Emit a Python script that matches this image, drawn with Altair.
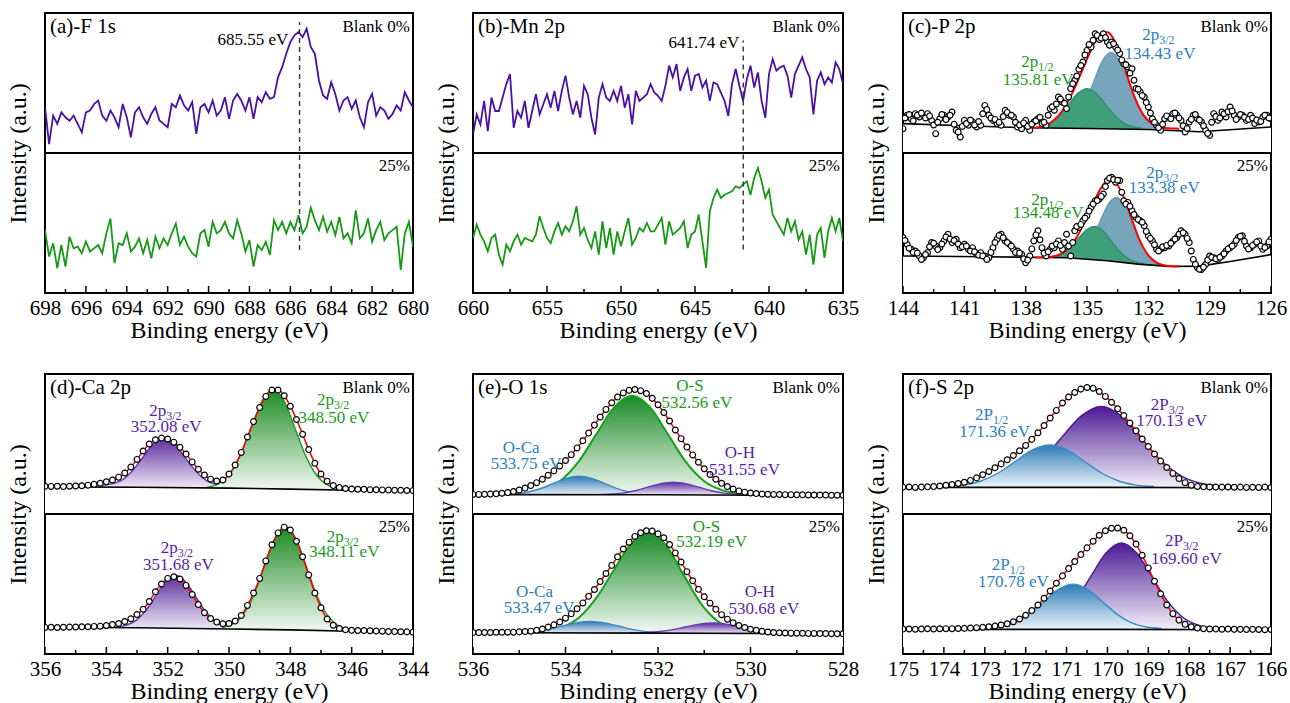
import numpy as np
import pandas as pd
import altair as alt

FONT = "'Liberation Serif', 'Times New Roman', Times, 'DejaVu Serif', serif"
W, H = 368, 280

PURPLE = "#4b10a4"
GREEN = "#169a16"
LAB_GREEN = "#1c9a1c"
LAB_BLUE = "#2a80bf"
LAB_PURPLE = "#5a1fa8"

# ============================ (a) F 1s ============================
A_RANGE = (698.0, 680.0)
A_TICKS = [698, 696, 694, 692, 690, 688, 686, 684, 682, 680]
A_MINOR = [697, 695, 693, 691, 689, 687, 685, 683, 681]
A_TOP = [32.7, 6.4, 26.7, 20.8, 29.0, 25.5, 23.0, 26.7, 20.8, 14.8,
         29.0, 30.3, 35.0, 37.5, 26.7, 23.0, 30.3, 25.5, 18.4, 35.0,
         25.5, 11.2, 29.0, 32.7, 25.5, 20.8, 27.9, 32.7, 23.2, 20.8,
         18.4, 35.0, 32.7, 41.0, 34.0, 30.3, 36.3, 13.6, 32.7, 35.0,
         29.0, 37.5, 26.7, 30.3, 39.9, 24.4, 37.5, 42.2, 37.5, 30.3,
         39.9, 24.4, 39.9, 36.3, 43.4, 38.7, 39.9, 54.2, 61.3, 70.9,
         79.2, 84.0, 86.4, 82.8, 88.8, 75.7, 70.9, 51.8, 41.1, 38.7,
         50.6, 42.2, 30.3, 37.5, 39.9, 31.5, 37.5, 25.5, 18.4, 36.3,
         42.2, 26.7, 32.7, 30.3, 24.4, 27.9, 34.0, 30.3, 43.4, 37.5,
         32.7]
A_BOT = [44.9, 26.0, 35.5, 17.7, 34.3, 18.9, 40.2, 31.9, 33.1, 28.4,
         36.7, 29.6, 31.9, 34.3, 28.4, 42.6, 53.2, 21.3, 35.5, 34.3,
         42.6, 29.6, 33.1, 39.0, 28.4, 37.8, 24.8, 40.2, 31.9, 39.0,
         34.3, 42.6, 49.6, 34.3, 40.2, 33.1, 28.4, 26.0, 42.6, 44.9,
         33.1, 50.8, 42.6, 44.9, 50.8, 42.6, 39.0, 52.0, 42.6, 29.6,
         37.8, 18.9, 34.3, 30.7, 36.7, 27.2, 52.0, 44.9, 50.8, 42.6,
         50.8, 44.9, 55.6, 42.6, 47.3, 61.0, 52.0, 44.9, 54.4, 43.7,
         50.8, 41.4, 54.4, 39.0, 42.6, 35.5, 59.1, 39.0, 42.6, 53.2,
         36.7, 44.9, 50.8, 37.8, 42.6, 44.9, 47.3, 16.5, 42.6, 50.8,
         33.1]
A_DASH = [685.55, 30.7, 193.6]
A_NOTE = ["685.55 eV", 686.1, 180.5]

# ============================ (b) Mn 2p ============================
B_RANGE = (660.0, 635.0)
B_TICKS = [660, 655, 650, 645, 640, 635]
B_MINOR = [657.5, 652.5, 647.5, 642.5, 637.5]
B_TOP = [13.2, 27.6, 20.4, 37.2, 15.6, 39.6, 30.0, 30.0, 39.6, 49.2,
         56.4, 18.0, 30.0, 25.2, 37.2, 18.0, 30.0, 42.0, 27.6, 34.8,
         42.0, 32.4, 44.4, 30.0, 44.4, 55.2, 39.6, 27.6, 37.2, 25.2,
         48.0, 42.0, 25.2, 13.2, 39.6, 49.2, 39.6, 37.2, 44.4, 37.2,
         48.0, 32.4, 42.0, 20.4, 44.4, 37.2, 39.6, 42.0, 49.2, 43.2,
         40.8, 37.2, 48.0, 62.4, 54.0, 63.5, 44.4, 54.0, 60.0, 44.4,
         55.2, 56.4, 46.8, 51.6, 37.2, 50.4, 49.2, 43.2, 37.2, 26.4,
         49.2, 60.0, 48.0, 37.2, 52.8, 62.4, 46.8, 57.6, 37.2, 25.2,
         56.4, 67.1, 58.8, 61.2, 62.4, 55.2, 39.6, 56.4, 62.4, 68.3,
         60.0, 54.0, 27.6, 51.6, 57.6, 49.2, 54.0, 50.4, 64.7, 60.0,
         49.2]
B_BOT = [39.3, 48.8, 41.7, 36.9, 29.8, 39.3, 41.7, 27.4, 20.2, 34.5,
         29.8, 36.9, 41.7, 34.5, 39.3, 38.0, 36.9, 41.7, 54.8, 46.4,
         39.3, 35.7, 44.0, 50.0, 41.7, 47.6, 44.0, 51.2, 61.9, 41.7,
         46.4, 38.0, 32.1, 44.0, 27.4, 51.2, 32.1, 46.4, 27.4, 44.0,
         33.3, 44.0, 53.6, 34.5, 39.3, 46.4, 44.0, 50.0, 44.0, 44.0,
         48.8, 53.6, 34.5, 51.2, 41.7, 44.0, 46.4, 51.2, 32.1, 41.7,
         44.0, 56.0, 36.9, 17.9, 58.3, 67.9, 73.8, 67.9, 70.2, 71.4,
         72.6, 76.2, 75.0, 77.4, 79.8, 70.2, 82.1, 89.3, 79.8, 67.9,
         73.8, 56.0, 51.2, 46.4, 41.7, 53.6, 44.0, 51.2, 38.0, 44.0,
         27.4, 41.7, 20.2, 41.7, 46.4, 25.0, 44.0, 53.6, 44.0, 53.6,
         36.9]
B_DASH = [641.74, 31.0, 180.3]
B_NOTE = ["641.74 eV", 642.0, 178.4]

# ============================ (c) P 2p ============================
C_RANGE = (144.0, 126.0)          # scan points on the 0.2 eV grid
C_MID_RANGE = (143.9, 126.1)      # interleaved scan points
C_TICKS = [144, 141, 138, 135, 132, 129, 126]
C_MINOR = [142.5, 139.5, 136.5, 133.5, 130.5, 127.5]
C_TOP = [17.4, 26.9, 24.5, 28.1, 25.7, 26.9, 28.1, 23.3, 13.8, 24.5,
         26.9, 25.7, 29.3, 16.2, 11.4, 23.3, 19.8, 22.1, 18.6, 19.8,
         34.0, 26.9, 23.3, 21.0, 19.8, 30.5, 26.9, 25.7, 18.6, 17.4,
         23.3, 16.2, 22.1, 24.5, 21.0, 19.8, 31.7, 30.5, 40.0, 36.3,
         31.7, 46.0, 51.9, 59.8, 65.0, 73.3, 75.7, 85.2, 81.0, 85.2,
         79.3, 79.3, 75.7, 71.0, 63.8, 61.4, 60.2, 46.0, 43.6, 40.0,
         32.9, 24.5, 19.8, 16.2, 24.5, 25.7, 28.1, 26.9, 23.3, 15.0,
         22.1, 26.9, 24.5, 22.1, 16.2, 12.6, 28.1, 23.3, 29.3, 25.7,
         32.9, 26.9, 25.7, 26.9, 23.3, 26.9, 21.0, 22.1, 25.7, 26.9,
         24.5]
C_TOP_MID = [25.0, 27.5, 23.0, 27.0, 28.5, 25.0, 26.5, 20.0, 22.0, 27.5,
             24.0, 27.0, 20.5, 15.0, 19.0, 21.0, 23.5, 20.0, 22.5, 28.0,
             31.0, 25.0, 24.0, 22.0, 26.0, 29.0, 27.0, 22.0, 20.0, 21.5,
             19.0, 20.5, 23.0, 25.5, 22.0, 27.0, 33.0, 35.0, 38.5, 35.5,
             40.0, 49.5, 55.0, 62.5, 70.0, 77.5, 80.5, 84.0, 82.0, 82.5,
             77.0, 78.0, 73.5, 66.5, 63.0, 57.0, 52.0, 45.5, 41.0, 36.0,
             28.5, 22.0, 18.0, 20.5, 26.5, 24.5, 28.5, 25.0, 19.5, 17.5,
             24.0, 27.5, 23.5, 19.5, 14.0, 22.0, 26.0, 25.0, 28.0, 29.5,
             30.0, 24.0, 27.5, 25.5, 24.0, 25.0, 23.5, 22.5, 27.0, 25.0]
C_BOT = [39.6, 34.8, 31.2, 30.0, 26.4, 25.2, 28.8, 36.0, 33.6, 32.4,
         37.2, 42.0, 36.0, 38.4, 32.4, 34.8, 31.2, 32.4, 27.6, 28.8,
         26.4, 25.2, 32.4, 38.4, 42.0, 37.2, 34.8, 31.2, 30.0, 27.6,
         21.6, 26.4, 37.2, 44.4, 32.4, 26.4, 31.2, 32.4, 37.2, 31.2,
         42.0, 26.4, 44.4, 46.8, 51.6, 55.2, 61.2, 65.9, 67.1, 70.7,
         80.3, 82.7, 79.1, 80.3, 65.9, 64.7, 58.8, 54.0, 51.6, 48.0,
         40.8, 37.2, 31.2, 31.2, 32.4, 33.6, 37.2, 39.6, 44.4, 42.0,
         36.0, 24.0, 18.0, 16.8, 20.4, 26.4, 25.2, 24.0, 26.4, 30.0,
         32.4, 34.8, 39.6, 40.8, 33.6, 32.4, 34.8, 37.2, 31.2, 33.6,
         38.4]
C_BOT_MID = [37.5, 32.0, 29.0, 28.5, 24.0, 27.5, 33.0, 35.5, 31.0, 35.0,
             40.0, 38.5, 37.5, 35.0, 33.0, 33.5, 30.0, 29.5, 27.0, 26.5,
             24.0, 29.0, 36.0, 41.0, 39.5, 36.0, 33.5, 29.0, 28.5, 24.5,
             23.5, 31.5, 41.5, 38.0, 28.5, 29.5, 33.5, 35.0, 34.0, 36.0,
             33.5, 36.0, 47.5, 49.0, 53.5, 58.5, 63.5, 66.0, 69.0, 76.0,
             82.0, 81.0, 80.5, 72.0, 63.5, 62.0, 56.0, 52.5, 50.5, 44.0,
             39.0, 34.5, 30.0, 33.0, 34.0, 35.5, 38.5, 42.0, 43.0, 39.0,
             30.0, 20.5, 17.0, 18.5, 23.5, 25.5, 24.5, 25.5, 28.0, 31.5,
             33.5, 37.5, 40.5, 37.0, 31.5, 34.0, 36.5, 33.5, 32.5, 36.5]
C_TOP_FIT_RANGE = (138.0, 130.5)
C_TOP_FIT = [17.6, 17.8, 18.1, 18.8, 20.0, 22.0, 25.0, 29.3, 35.0, 41.9,
             49.9, 58.5, 67.1, 75.3, 81.8, 86.0, 86.3, 82.7, 75.1, 65.0,
             53.6, 43.0, 34.2, 27.4, 23.0, 20.2, 18.8, 18.0, 17.7, 17.5, 17.4]
C_BOT_FIT_RANGE = (137.5, 130.5)
C_BOT_FIT = [25.3, 25.4, 25.5, 25.9, 26.6, 28.1, 30.7, 34.7, 39.9, 46.8,
             54.5, 62.6, 70.1, 76.4, 80.1, 80.4, 77.0, 69.9, 60.6, 50.3,
             40.3, 32.6, 26.9, 23.3, 21.0, 19.8, 19.3, 19.0, 19.0]
C_TOP_P12_RANGE = (137.7, 132.3)
C_TOP_P12 = [17.8, 18.8, 21.4, 26.8, 34.8, 42.6, 46.0, 42.6, 34.8, 26.8, 21.4, 18.8, 17.8]
C_TOP_P32_RANGE = (136.38, 131.28)
C_TOP_P32 = [17.9, 19.7, 24.7, 35.0, 50.4, 65.4, 71.8, 65.4, 50.4, 35.0, 24.7, 19.7, 17.9]
C_BOT_P12_RANGE = (137.02, 132.22)
C_BOT_P12 = [25.5, 26.3, 28.2, 32.5, 38.9, 45.2, 47.6, 44.4, 37.3, 30.0, 24.9, 22.2, 20.9]
C_BOT_P32_RANGE = (135.96, 131.16)
C_BOT_P32 = [25.3, 26.4, 30.2, 38.7, 51.1, 63.3, 68.2, 62.2, 48.9, 35.4, 26.0, 21.3, 19.5]
C_TOP_BG_E = [144, 141, 138, 135, 132, 129.5, 126]
C_TOP_BG = [21.0, 19.5, 18.0, 17.5, 16.8, 15.2, 18.6]
C_BOT_BG_E = [144, 140, 136, 134, 132.5, 131, 129.5, 128, 126]
C_BOT_BG = [26.4, 25.9, 25.2, 23.0, 20.6, 19.0, 19.2, 22.5, 27.4]
C_BASE = [15.0, 19.0]
C_LABELS = [
    (131.47, 184.0, "2p", "3/2", LAB_BLUE), (131.43, 171.0, "134.43 eV", "", LAB_BLUE),
    (137.39, 165.0, "2p", "1/2", LAB_GREEN), (137.39, 151.9, "135.81 eV", "", LAB_GREEN),
    (131.27, 85.6, "2p", "3/2", LAB_BLUE), (131.22, 75.1, "133.38 eV", "", LAB_BLUE),
    (136.90, 66.4, "2p", "1/2", LAB_GREEN), (136.90, 56.8, "134.48 eV", "", LAB_GREEN)]

# ============================ (d) Ca 2p ============================
D_RANGE = (356.0, 344.0)
D_TICKS = [356, 354, 352, 350, 348, 346, 344]
D_MINOR = [355, 353, 351, 349, 347, 345]
D_TOP = [19.8, 19.7, 19.8, 19.6, 19.8, 20.0, 20.2, 20.6, 21.2, 22.0,
         23.0, 24.3, 26.3, 29.3, 33.6, 39.0, 45.0, 50.0, 53.0, 54.2,
         53.6, 51.3, 47.6, 42.8, 37.2, 32.0, 27.8, 24.9, 23.6, 24.3,
         28.5, 35.0, 44.0, 55.0, 66.0, 76.0, 84.0, 88.6, 88.5, 84.5,
         77.0, 67.5, 57.0, 46.0, 36.2, 28.6, 23.4, 20.3, 18.9, 18.2,
         17.9, 17.7, 17.6, 17.4, 17.3, 17.2, 17.1, 17.0, 16.9, 16.8,
         16.7]
D_BOT = [19.0, 19.1, 18.9, 19.1, 19.2, 19.3, 19.4, 19.5, 19.7, 19.9,
         20.4, 21.0, 21.8, 23.2, 25.2, 28.2, 32.0, 37.5, 44.5, 50.0,
         54.0, 55.2, 53.6, 49.0, 42.5, 35.3, 29.5, 25.3, 22.8, 21.6,
         21.8, 23.5, 27.5, 34.7, 43.5, 54.0, 66.5, 78.0, 86.5, 90.6,
         88.5, 80.5, 69.5, 56.5, 43.5, 33.0, 25.0, 20.5, 18.2, 17.3,
         16.9, 16.8, 16.7, 16.6, 16.4, 16.3, 16.1, 16.0, 15.9, 15.8,
         15.6]
D_TOP_A_RANGE = (354.22, 350.02)
D_TOP_A = [20.5, 21.3, 23.8, 30.4, 40.2, 49.9, 54.0, 49.9, 40.1, 30.3, 23.6, 21.0, 19.9]
D_TOP_B_RANGE = (350.72, 346.40)
D_TOP_B = [19.2, 21.4, 27.8, 41.3, 61.3, 80.8, 89.1, 80.6, 60.8, 40.6, 27.0, 20.5, 18.1]
D_BOT_A_RANGE = (353.69, 349.79)
D_BOT_A = [19.2, 20.4, 23.8, 31.0, 41.5, 51.8, 56.2, 51.7, 41.2, 30.6, 23.3, 19.8, 18.6]
D_BOT_B_RANGE = (350.23, 346.09)
D_BOT_B = [19.0, 21.3, 28.0, 41.8, 62.4, 82.4, 90.9, 82.2, 62.0, 41.2, 27.3, 20.2, 17.8]
D_BG_E = [356, 353, 350, 348, 346, 344]
D_TOP_BG = [19.4, 19.1, 18.5, 17.8, 17.0, 16.6]
D_BOT_BG = [19.1, 18.8, 17.9, 17.2, 16.3, 15.6]
D_BASE = [16.5, 15.5]
D_LABELS = [
    (352.05, 173.6, "2p", "3/2", LAB_PURPLE), (352.05, 161.8, "352.08 eV", "", LAB_PURPLE),
    (346.58, 181.1, "2p", "3/2", LAB_GREEN), (346.58, 168.9, "348.50 eV", "", LAB_GREEN),
    (351.67, 75.4, "2p", "3/2", LAB_PURPLE), (351.65, 63.4, "351.68 eV", "", LAB_PURPLE),
    (346.26, 83.7, "2p", "3/2", LAB_GREEN), (346.24, 73.0, "348.11 eV", "", LAB_GREEN)]

# ============================ (e) O 1s ============================
E_RANGE = (536.0, 528.0)
E_TICKS = [536, 534, 532, 530, 528]
E_MINOR = [535, 533, 531, 529]
E_TOP = [14.0, 14.0, 14.1, 14.2, 14.4, 14.8, 15.3, 16.1, 17.1, 18.5,
         20.3, 22.4, 24.8, 27.7, 30.8, 34.3, 38.2, 42.4, 47.2, 52.3,
         57.8, 63.5, 69.3, 74.7, 79.5, 83.5, 86.5, 88.3, 88.9, 88.1,
         86.0, 82.6, 78.0, 72.5, 66.4, 60.0, 53.8, 47.8, 42.2, 37.0,
         32.3, 28.2, 24.8, 21.9, 19.6, 17.8, 16.5, 15.6, 15.0, 14.6,
         14.3, 14.1, 14.0, 13.9, 13.8, 13.8, 13.7, 13.7, 13.6, 13.6,
         13.5, 13.5, 13.4, 13.4, 13.4]
E_BOT = [15.3, 15.3, 15.4, 15.4, 15.5, 15.5, 15.6, 15.6, 15.8, 16.0,
         16.3, 17.0, 17.9, 19.2, 20.8, 22.9, 25.6, 28.7, 32.3, 36.5,
         41.2, 46.1, 51.7, 57.5, 63.3, 69.4, 75.0, 79.9, 84.0, 86.6,
         88.0, 87.8, 85.8, 83.0, 78.2, 72.2, 65.7, 58.8, 52.3, 46.2,
         40.9, 36.3, 31.9, 28.1, 24.9, 22.3, 20.4, 18.9, 17.7, 16.9,
         16.2, 15.7, 15.4, 15.2, 15.0, 14.9, 14.9, 14.8, 14.7, 14.7,
         14.6, 14.6, 14.5, 14.5, 14.4]
E_TOP_OS_RANGE = (534.90, 530.22)
E_TOP_OS = [14.7, 17.0, 23.4, 36.8, 56.7, 76.1, 84.4, 76.1, 56.7, 36.8, 23.4, 17.0, 14.7]
E_TOP_OCA_RANGE = (535.36, 532.06)
E_TOP_OCA = [14.1, 14.5, 15.7, 18.2, 21.9, 25.5, 27.0, 25.5, 21.9, 18.1, 15.6, 14.4, 14.0]
E_TOP_OH_RANGE = (533.32, 530.02)
E_TOP_OH = [13.8, 14.1, 14.9, 16.6, 19.2, 21.6, 22.7, 21.6, 19.2, 16.6, 14.9, 14.1, 13.8]
E_BOT_OS_RANGE = (534.45, 529.95)
E_BOT_OS = [16.1, 19.0, 26.3, 40.4, 60.2, 78.9, 86.7, 77.6, 56.7, 36.2, 23.2, 17.4, 15.6]
E_BOT_OCA_RANGE = (535.26, 531.66)
E_BOT_OCA = [15.2, 15.5, 16.2, 17.8, 20.1, 22.3, 23.3, 22.2, 20.0, 17.6, 16.0, 15.3, 15.0]
E_BOT_OH_RANGE = (532.61, 529.01)
E_BOT_OH = [15.0, 15.2, 15.9, 17.2, 19.3, 21.3, 22.1, 21.3, 19.3, 17.2, 15.9, 15.2, 15.0]
E_BG_E = [536, 532, 528]
E_TOP_BG = [13.9, 13.7, 13.2]
E_BOT_BG = [15.2, 14.9, 14.4]
E_BASE = [13.2, 14.4]
E_LABELS = [
    (531.31, 191.4, "O-S", "", LAB_GREEN), (531.16, 179.1, "532.56 eV", "", LAB_GREEN),
    (534.96, 147.2, "O-Ca", "", LAB_BLUE), (534.85, 135.6, "533.75 eV", "", LAB_BLUE),
    (530.23, 143.3, "O-H", "", LAB_PURPLE), (530.13, 131.4, "531.55 eV", "", LAB_PURPLE),
    (530.95, 90.7, "O-S", "", LAB_GREEN), (530.84, 79.8, "532.19 eV", "", LAB_GREEN),
    (534.67, 44.2, "O-Ca", "", LAB_BLUE), (534.57, 32.6, "533.47 eV", "", LAB_BLUE),
    (529.80, 44.2, "O-H", "", LAB_PURPLE), (529.71, 32.1, "530.68 eV", "", LAB_PURPLE)]

# ============================ (f) S 2p ============================
F_RANGE = (175.0, 166.0)
F_TICKS = [175, 174, 173, 172, 171, 170, 169, 168, 167, 166]
F_MINOR = [174.5, 173.5, 172.5, 171.5, 170.5, 169.5, 168.5, 167.5, 166.5]
F_TOP = [19.2, 19.3, 19.0, 19.2, 19.4, 19.6, 20.0, 20.5, 21.1, 21.8,
         22.7, 24.0, 25.8, 28.0, 30.4, 33.0, 35.8, 38.7, 41.8, 45.2,
         49.0, 53.3, 58.0, 63.2, 68.6, 74.0, 79.3, 83.6, 86.8, 89.2,
         90.4, 89.8, 87.5, 84.0, 79.8, 75.2, 70.3, 65.0, 59.4, 53.6,
         48.2, 42.9, 37.8, 33.2, 29.0, 25.3, 22.4, 20.6, 19.7, 19.4,
         19.3, 19.2, 19.2, 19.3, 19.1, 19.2, 19.0, 19.1, 19.0, 19.2,
         18.9]
F_BOT = [17.8, 17.9, 17.7, 17.9, 18.0, 17.9, 18.0, 18.1, 18.1, 18.2,
         18.3, 18.5, 18.8, 19.1, 19.5, 20.0, 20.7, 21.6, 23.0, 25.0,
         27.7, 31.0, 35.0, 39.8, 45.0, 50.5, 55.8, 61.0, 66.0, 71.0,
         75.8, 80.5, 84.8, 88.0, 89.8, 90.0, 88.4, 84.5, 78.5, 70.5,
         61.5, 52.0, 43.0, 35.0, 28.8, 24.2, 21.2, 19.5, 18.6, 18.1,
         17.9, 17.8, 17.7, 17.8, 17.6, 17.6, 17.5, 17.6, 17.5, 17.4,
         17.5]
F_TOP_A_RANGE = (173.96, 168.86)
F_TOP_A = [19.6, 20.6, 23.4, 29.1, 37.5, 45.8, 49.3, 45.8, 37.5, 29.1, 23.4, 20.6, 19.6]
F_TOP_B_RANGE = (173.09, 167.21)
F_TOP_B = [19.9, 21.8, 27.1, 38.0, 54.3, 70.1, 76.9, 70.1, 54.3, 38.0, 27.1, 21.8, 19.9]
F_BOT_A_RANGE = (173.00, 168.68)
F_BOT_A = [18.3, 19.3, 22.2, 28.3, 37.3, 46.1, 49.9, 46.1, 37.3, 28.3, 22.2, 19.3, 18.3]
F_BOT_B_RANGE = (171.91, 167.41)
F_BOT_B = [18.6, 20.6, 26.2, 37.9, 55.2, 72.1, 79.3, 72.1, 55.2, 37.9, 26.2, 20.6, 18.6]
F_BG_E = [175, 170, 166]
F_TOP_BG = [19.0, 19.0, 18.8]
F_BOT_BG = [17.6, 17.6, 17.3]
F_BASE = [18.8, 17.3]
F_LABELS = [
    (172.80, 170.9, "2P", "1/2", LAB_BLUE), (172.76, 158.6, "171.36 eV", "", LAB_BLUE),
    (168.50, 178.1, "2P", "3/2", LAB_PURPLE), (168.43, 166.2, "170.13 eV", "", LAB_PURPLE),
    (172.39, 63.3, "2P", "1/2", LAB_BLUE), (172.30, 51.2, "170.78 eV", "", LAB_BLUE),
    (168.15, 80.5, "2P", "3/2", LAB_PURPLE), (168.07, 67.9, "169.60 eV", "", LAB_PURPLE)]

TOP, BOT = 100.0, 0.0   # offset of the upper (Blank 0%) and lower (25%) strip

# ============================ helpers ============================
Y = alt.Y("v:Q", scale=alt.Scale(domain=[0, 200], nice=False, zero=False),
          axis=alt.Axis(labels=False, ticks=False, domain=False, grid=False,
                        title="Intensity (a.u.)", titlePadding=15))


def xenc(rng, major):
    return alt.X("E:Q",
                 scale=alt.Scale(domain=[min(rng), max(rng)], reverse=True, nice=False, zero=False),
                 axis=alt.Axis(values=major, format="d", ticks=False, domain=False, grid=False,
                               labelFlush=False, labelOverlap=False, labelPadding=4,
                               titlePadding=0, title="Binding energy (eV)"))


def sdf(rng, vals, off):
    return pd.DataFrame({"E": np.linspace(rng[0], rng[1], len(vals)),
                         "v": np.asarray(vals, dtype=float) + off})


def trace(x, rng, vals, off, color, w=1.8, interp="linear"):
    return alt.Chart(sdf(rng, vals, off)).mark_line(
        color=color, strokeWidth=w, clip=True, interpolate=interp).encode(x=x, y=Y)


def dots(x, rng, vals, off, size=34):
    return alt.Chart(sdf(rng, vals, off)).mark_point(
        shape="circle", filled=True, fill="white", stroke="black", strokeWidth=1.2,
        size=size, opacity=1, clip=True).encode(x=x, y=Y)


def bg_layers(x, es, vals, off):
    df = pd.DataFrame({"E": es, "v": np.asarray(vals, dtype=float) + off, "f": off + 0.8})
    mask = alt.Chart(df).mark_area(color="white", clip=True).encode(x=x, y=Y, y2="f:Q")
    line = alt.Chart(df).mark_line(color="black", strokeWidth=1.6, clip=True).encode(x=x, y=Y)
    return mask, line


def grad(top, bottom):
    return {"gradient": "linear", "x1": 0, "x2": 0, "y1": 0, "y2": 1,
            "stops": [{"offset": 0, "color": top}, {"offset": 1, "color": bottom}]}


def component(x, rng, vals, base, off, fill, line_color, lw=1.4):
    df = sdf(rng, vals, off)
    df["b"] = base + off
    area = alt.Chart(df).mark_area(color=fill, interpolate="monotone", clip=True, opacity=1).encode(
        x=x, y=Y, y2="b:Q")
    line = alt.Chart(df).mark_line(color=line_color, strokeWidth=lw, interpolate="monotone",
                                   clip=True).encode(x=x, y=Y)
    return area, line


def label_layers(x, rows):
    cols = ["E", "v", "t", "s", "c"]
    plain = pd.DataFrame([r for r in rows if r[3] == ""], columns=cols)
    subs = pd.DataFrame([r for r in rows if r[3] != ""], columns=cols)
    out = [alt.Chart(plain).mark_text(font=FONT, fontSize=17, align="center", baseline="middle").encode(
        x=x, y=Y, text="t:N", color=alt.Color("c:N", scale=None))]
    if len(subs):
        out.append(alt.Chart(subs).mark_text(font=FONT, fontSize=17, align="right", baseline="middle").encode(
            x=x, y=Y, text="t:N", color=alt.Color("c:N", scale=None)))
        out.append(alt.Chart(subs).mark_text(font=FONT, fontSize=12, align="left", baseline="middle", dy=5).encode(
            x=x, y=Y, text="s:N", color=alt.Color("c:N", scale=None)))
    return out


def frame_layers(x, w, h, title, major, minor):
    div = alt.Chart(pd.DataFrame({"v": [100.0]})).mark_rule(color="black", strokeWidth=2).encode(y=Y)
    tmaj = alt.Chart(pd.DataFrame({"E": major})).mark_rule(color="black", strokeWidth=1.5).encode(
        x=x, y=alt.value(h), y2=alt.value(h - 7))
    tmin = alt.Chart(pd.DataFrame({"E": minor})).mark_rule(color="black", strokeWidth=1.5).encode(
        x=x, y=alt.value(h), y2=alt.value(h - 4))
    t1 = alt.Chart(pd.DataFrame({"t": [title]})).mark_text(
        font=FONT, fontSize=21, align="left", baseline="middle", color="black").encode(
        text="t:N", x=alt.value(5), y=alt.value(14))
    t2 = alt.Chart(pd.DataFrame({"t": ["Blank 0%"]})).mark_text(
        font=FONT, fontSize=17, align="right", baseline="middle", color="black").encode(
        text="t:N", x=alt.value(w - 3), y=alt.value(14))
    t3 = alt.Chart(pd.DataFrame({"t": ["25%"]})).mark_text(
        font=FONT, fontSize=17, align="right", baseline="middle", color="black").encode(
        text="t:N", x=alt.value(w - 3), y=alt.value(h / 2 + 13))
    return [div, tmaj, tmin, t1, t2, t3]


def noisy_panel(title, rng, major, minor, top, bot, dash, note, w=W, h=H):
    x = xenc(rng, major)
    dash_df = pd.DataFrame({"E": [dash[0]], "v": [dash[1]], "v2": [dash[2]]})
    dash_l = alt.Chart(dash_df).mark_rule(color="#333333", strokeWidth=1.4, strokeDash=[5, 4]).encode(
        x=x, y=Y, y2="v2:Q")
    note_df = pd.DataFrame({"t": [note[0]], "E": [note[1]], "v": [note[2]]})
    note_l = alt.Chart(note_df).mark_text(font=FONT, fontSize=17, align="right", baseline="middle",
                                          color="black").encode(x=x, y=Y, text="t:N")
    layers = [trace(x, rng, top, TOP, PURPLE), trace(x, rng, bot, BOT, GREEN), dash_l, note_l]
    layers += frame_layers(x, w, h, title, major, minor)
    return alt.layer(*layers).properties(width=w, height=h)


# ============================ panels ============================
WM = 370   # middle column
pa = noisy_panel("(a)-F 1s", A_RANGE, A_TICKS, A_MINOR, A_TOP, A_BOT, A_DASH, A_NOTE)
pb = noisy_panel("(b)-Mn 2p", B_RANGE, B_TICKS, B_MINOR, B_TOP, B_BOT, B_DASH, B_NOTE, w=WM)

# (c)
xc = xenc(C_RANGE, C_TICKS)
lc = []
for off, p32r, p32, p12r, p12, base in [
        (TOP, C_TOP_P32_RANGE, C_TOP_P32, C_TOP_P12_RANGE, C_TOP_P12, C_BASE[0]),
        (BOT, C_BOT_P32_RANGE, C_BOT_P32, C_BOT_P12_RANGE, C_BOT_P12, C_BASE[1])]:
    lc += component(xc, p32r, p32, base, off, "#77a6bc", "#6698b0")
    lc += component(xc, p12r, p12, base, off, "#3f9f7b", "#2f9070")
for off, es, bg in [(TOP, C_TOP_BG_E, C_TOP_BG), (BOT, C_BOT_BG_E, C_BOT_BG)]:
    lc += bg_layers(xc, es, bg, off)
lc += [trace(xc, C_TOP_FIT_RANGE, C_TOP_FIT, TOP, "#ff0000", 2, "monotone"),
       trace(xc, C_BOT_FIT_RANGE, C_BOT_FIT, BOT, "#ff0000", 2, "monotone"),
       dots(xc, C_RANGE, C_TOP, TOP), dots(xc, C_RANGE, C_BOT, BOT),
       dots(xc, C_MID_RANGE, C_TOP_MID, TOP), dots(xc, C_MID_RANGE, C_BOT_MID, BOT)]
lc += label_layers(xc, C_LABELS)
lc += frame_layers(xc, W, H, "(c)-P 2p", C_TICKS, C_MINOR)
pc = alt.layer(*lc).properties(width=W, height=H)

# (d)
xd = xenc(D_RANGE, D_TICKS)
ld = []
for off, ar, a, br, b, base in [
        (TOP, D_TOP_A_RANGE, D_TOP_A, D_TOP_B_RANGE, D_TOP_B, D_BASE[0]),
        (BOT, D_BOT_A_RANGE, D_BOT_A, D_BOT_B_RANGE, D_BOT_B, D_BASE[1])]:
    ld += component(xd, ar, a, base, off, grad("#5c2c9e", "#f7f4fb"), "#6a36b0")
    ld += component(xd, br, b, base, off, grad("#1b8a22", "#f4faf4"), "#1e9a24")
for off, bg in [(TOP, D_TOP_BG), (BOT, D_BOT_BG)]:
    ld += bg_layers(xd, D_BG_E, bg, off)
ld += [trace(xd, D_RANGE, D_TOP, TOP, "#ff0000", 1.5, "monotone"),
       trace(xd, D_RANGE, D_BOT, BOT, "#ff0000", 1.5, "monotone"),
       dots(xd, D_RANGE, D_TOP, TOP), dots(xd, D_RANGE, D_BOT, BOT)]
ld += label_layers(xd, D_LABELS)
ld += frame_layers(xd, W, H, "(d)-Ca 2p", D_TICKS, D_MINOR)
pd_ = alt.layer(*ld).properties(width=W, height=H)

# (e)
xe = xenc(E_RANGE, E_TICKS)
le = []
for off, osr, os_, car, ca, ohr, oh, base in [
        (TOP, E_TOP_OS_RANGE, E_TOP_OS, E_TOP_OCA_RANGE, E_TOP_OCA, E_TOP_OH_RANGE, E_TOP_OH, E_BASE[0]),
        (BOT, E_BOT_OS_RANGE, E_BOT_OS, E_BOT_OCA_RANGE, E_BOT_OCA, E_BOT_OH_RANGE, E_BOT_OH, E_BASE[1])]:
    le += component(xe, osr, os_, base, off, grad("#1c8a28", "#f4faf4"), "#1aa01a", 2)
    le += component(xe, car, ca, base, off, grad("#2d78b4", "#eef4fa"), "#3a88c2")
    le += component(xe, ohr, oh, base, off, grad("#5a2aa0", "#f4f0fa"), "#6a3ab4")
for off, bg in [(TOP, E_TOP_BG), (BOT, E_BOT_BG)]:
    le += bg_layers(xe, E_BG_E, bg, off)
le += [trace(xe, E_RANGE, E_TOP, TOP, "#ff0000", 1.5, "monotone"),
       trace(xe, E_RANGE, E_BOT, BOT, "#ff0000", 1.5, "monotone"),
       dots(xe, E_RANGE, E_TOP, TOP), dots(xe, E_RANGE, E_BOT, BOT)]
le += label_layers(xe, E_LABELS)
le += frame_layers(xe, WM, H, "(e)-O 1s", E_TICKS, E_MINOR)
pe = alt.layer(*le).properties(width=WM, height=H)

# (f)
xf = xenc(F_RANGE, F_TICKS)
lf = []
for off, ar, a, br, b, base in [
        (TOP, F_TOP_A_RANGE, F_TOP_A, F_TOP_B_RANGE, F_TOP_B, F_BASE[0]),
        (BOT, F_BOT_A_RANGE, F_BOT_A, F_BOT_B_RANGE, F_BOT_B, F_BASE[1])]:
    lf += component(xf, br, b, base, off, grad("#4a1a94", "#f5f2fa"), "#4a1a94")
    lf += component(xf, ar, a, base, off, grad("#2b7cb6", "#eff6fb"), "#3a8cc6")
for off, bg in [(TOP, F_TOP_BG), (BOT, F_BOT_BG)]:
    lf += bg_layers(xf, F_BG_E, bg, off)
lf += [trace(xf, F_RANGE, F_TOP, TOP, "#ff0000", 1.5, "monotone"),
       trace(xf, F_RANGE, F_BOT, BOT, "#ff0000", 1.5, "monotone"),
       dots(xf, F_RANGE, F_TOP, TOP), dots(xf, F_RANGE, F_BOT, BOT)]
lf += label_layers(xf, F_LABELS)
lf += frame_layers(xf, W, H, "(f)-S 2p", F_TICKS, F_MINOR)
pf = alt.layer(*lf).properties(width=W, height=H)

chart = alt.concat(pa, pb, pc, pd_, pe, pf, columns=3, bounds="flush",
                   spacing={"row": 81, "column": 60}).properties(
    padding={"left": 5, "top": 12, "right": 0, "bottom": 0})
chart = chart.configure_view(stroke="black", strokeWidth=2).configure_axis(
    labelFont=FONT, titleFont=FONT, labelFontSize=21, titleFontSize=24, titleFontWeight="normal",
    labelColor="black", titleColor="black").configure_text(font=FONT)

chart.save("out.html", embed_options={"renderer": "svg", "actions": False})
